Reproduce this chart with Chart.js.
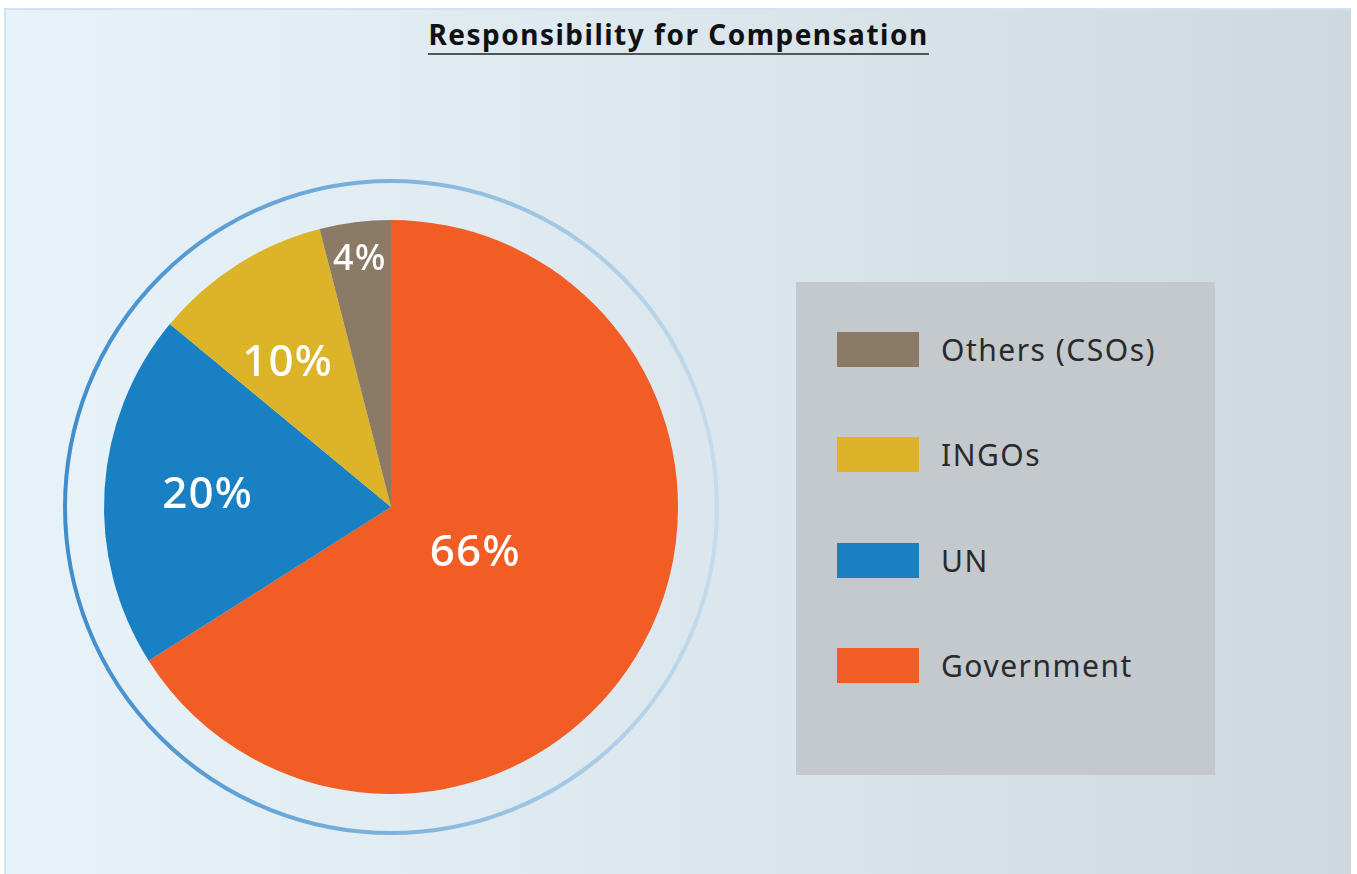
<!DOCTYPE html>
<html>
<head>
<meta charset="utf-8">
<script src="https://cdn.jsdelivr.net/npm/chart.js@4.4.1/dist/chart.umd.min.js"></script>
<style>
  html, body { margin: 0; padding: 0; background: #fff; }
  body { width: 1357px; height: 874px; position: relative; overflow: hidden; font-family: "Noto Sans", sans-serif; }
  #frame {
    position: absolute; left: 4px; top: 8px; width: 1347px; height: 870px;
    background: linear-gradient(to right, #e8f2f9 0%, #dde8ef 45%, #cdd8df 100%);
    border-left: 2px solid #cfe3f2; border-top: 2px solid #cfe3f2; box-sizing: border-box;
  }
  #title {
    position: absolute; left: 0; width: 1357px; top: 15px; text-align: center;
    font-weight: 700; font-size: 28px; letter-spacing: 1.5px; color: #111;
  }
  #title span { border-bottom: 2px solid #555; }
  #legendBox {
    position: absolute; left: 796px; top: 282px; width: 419px; height: 493px; background: #c4c9cd;
  }
  .item { position: absolute; left: 41px; height: 35px; display: flex; align-items: center; }
  .swatch { width: 82px; height: 35px; flex: none; }
  .label { margin-left: 22px; font-size: 30px; letter-spacing: 1.5px; color: #2a2a2a; white-space: nowrap; }
  canvas { position: absolute; left: 0; top: 0; }
</style>
</head>
<body>
<div id="frame"></div>
<div id="title"><span>Responsibility for Compensation</span></div>
<div style="position:absolute;left:0;top:0;width:1357px;height:874px;">
  <canvas id="myChart" width="1357" height="874"></canvas>
</div>
<div id="legendBox"></div>
<script>
const categories = ['Government', 'UN', 'INGOs', 'Others (CSOs)'];
const shares = [66, 20, 10, 4];
const sliceColors = ['#f25c25', '#1880c3', '#dcb428', '#8b7a66'];

// how far out from the centre each percentage sits (fraction of radius)
const labelRadius = [0.335, 0.64, 0.615, 0.87];
const labelNudge = [0, 0, -0.06, 0];   // small angle tweak, radians
const labelSize = [44, 44, 44, 36];

// legend, listed bottom-up like the stacked slices
const legendBox = document.getElementById('legendBox');
const legendTops = [366, 261, 155, 50];
categories.forEach((name, i) => {
  const row = document.createElement('div');
  row.className = 'item';
  row.style.top = legendTops[i] + 'px';
  row.innerHTML = '<div class="swatch" style="background:' + sliceColors[i] + '"></div><div class="label">' + name + '</div>';
  legendBox.appendChild(row);
});

const ringPlugin = {
  id: 'ring',
  beforeDatasetsDraw(chart) {
    const arc = chart.getDatasetMeta(0).data[0];
    if (!arc) return;
    const ctx = chart.ctx;
    const r = arc.outerRadius + 39;
    const g = ctx.createLinearGradient(arc.x - r, 0, arc.x + r, 0);
    g.addColorStop(0, '#3f8dcc');
    g.addColorStop(0.5, '#7fb2dc');
    g.addColorStop(1, '#c4dcec');
    ctx.save();
    ctx.beginPath();
    ctx.arc(arc.x, arc.y, r, 0, Math.PI * 2);
    ctx.strokeStyle = g;
    ctx.lineWidth = 4;
    ctx.stroke();
    ctx.restore();
  }
};

const pctPlugin = {
  id: 'pct',
  afterDatasetsDraw(chart) {
    const ctx = chart.ctx;
    const meta = chart.getDatasetMeta(0);
    ctx.save();
    ctx.fillStyle = '#fff';
    ctx.textAlign = 'center';
    ctx.textBaseline = 'middle';
    ctx.letterSpacing = '1px';
    meta.data.forEach((arc, i) => {
      const mid = (arc.startAngle + arc.endAngle) / 2 + labelNudge[i];
      const rr = arc.outerRadius * labelRadius[i];
      ctx.font = '500 ' + labelSize[i] + 'px "Noto Sans"';
      ctx.fillText(shares[i] + '%', arc.x + Math.cos(mid) * rr, arc.y + Math.sin(mid) * rr);
    });
    ctx.restore();
  }
};

new Chart(document.getElementById('myChart'), {
  type: 'pie',
  data: {
    labels: categories,
    datasets: [{
      data: shares,
      backgroundColor: sliceColors,
      borderWidth: 0
    }]
  },
  options: {
    responsive: false,
    animation: false,
    layout: { padding: { left: 104, right: 679, top: 220, bottom: 80 } },
    plugins: {
      legend: { display: false },
      tooltip: { enabled: false }
    }
  },
  plugins: [ringPlugin, pctPlugin]
});
</script>
</body>
</html>
